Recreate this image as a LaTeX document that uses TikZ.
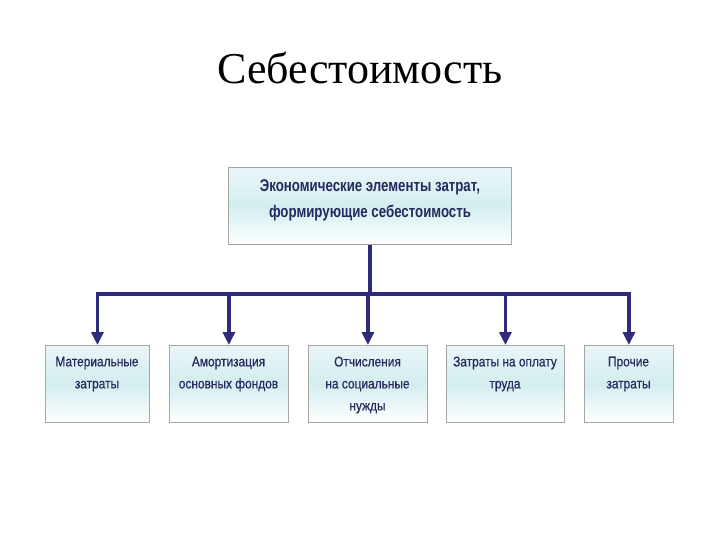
\documentclass[tikz,border=0pt]{standalone}
\usepackage{fontspec}
\setmainfont{Liberation Serif}
\newfontfamily\boxfont[FakeStretch=0.85,FakeBold=0.6]{Liberation Sans}
\newfontfamily\topfont[FakeStretch=0.78]{Liberation Sans}
\usetikzlibrary{arrows.meta}
\definecolor{navy}{HTML}{2F2B7C}
\definecolor{txt}{HTML}{28295E}
\definecolor{cyanlight}{HTML}{D3EEF0}
\definecolor{topc}{HTML}{EAF5F8}
\tikzset{
  box/.style={draw=gray!70, line width=0.8pt, top color=topc, bottom color=white, middle color=cyanlight,
    minimum height=77pt, inner sep=0pt, anchor=north west},
  lbl/.style={align=center, text=txt, inner sep=0pt, font=\boxfont\fontsize{14}{22}\selectfont},
  conn/.style={draw=navy, line width=3.5pt},
  arr/.style={conn, -{Triangle[length=13pt,width=12pt]}}
}
\begin{document}
\begin{tikzpicture}[x=1pt,y=-1pt]
\useasboundingbox (0,0) rectangle (720,540);
\node (title) at (360,68) {\fontsize{44}{48}\selectfont Себестоимость};
\node[box, minimum width=283pt] (top) at (228,167) {};
\node[lbl, font=\topfont\bfseries\fontsize{17}{26}\selectfont] (t0) at (370,200) {Экономические элементы затрат,\\формирующие себестоимость};
\node[box, minimum width=104pt] (b1) at (45,345) {};
\node[box, minimum width=119pt] (b2) at (169,345) {};
\node[box, minimum width=119pt] (b3) at (308,345) {};
\node[box, minimum width=118pt] (b4) at (446,345) {};
\node[box, minimum width=89pt] (b5) at (584,345) {};
\node[lbl] (t1) at (97,374) {Материальные\\затраты};
\node[lbl] (t2) at (228.5,374) {Амортизация\\основных фондов};
\node[lbl] (t3) at (367.5,385) {Отчисления\\на социальные\\нужды};
\node[lbl] (t4) at (505,374) {Затраты на оплату\\труда};
\node[lbl] (t5) at (628.5,374) {Прочие\\затраты};
\coordinate (bus) at (370,294);
\draw[conn] (top.south -| bus) -- (bus);
\draw[conn] ([xshift=-1.75pt]b1.north |- bus) -- ([xshift=1.75pt]b5.north |- bus);
\foreach \b in {b1,b2,b3,b4,b5} \draw[arr] (\b.north |- bus) -- (\b.north);
\end{tikzpicture}
\end{document}
